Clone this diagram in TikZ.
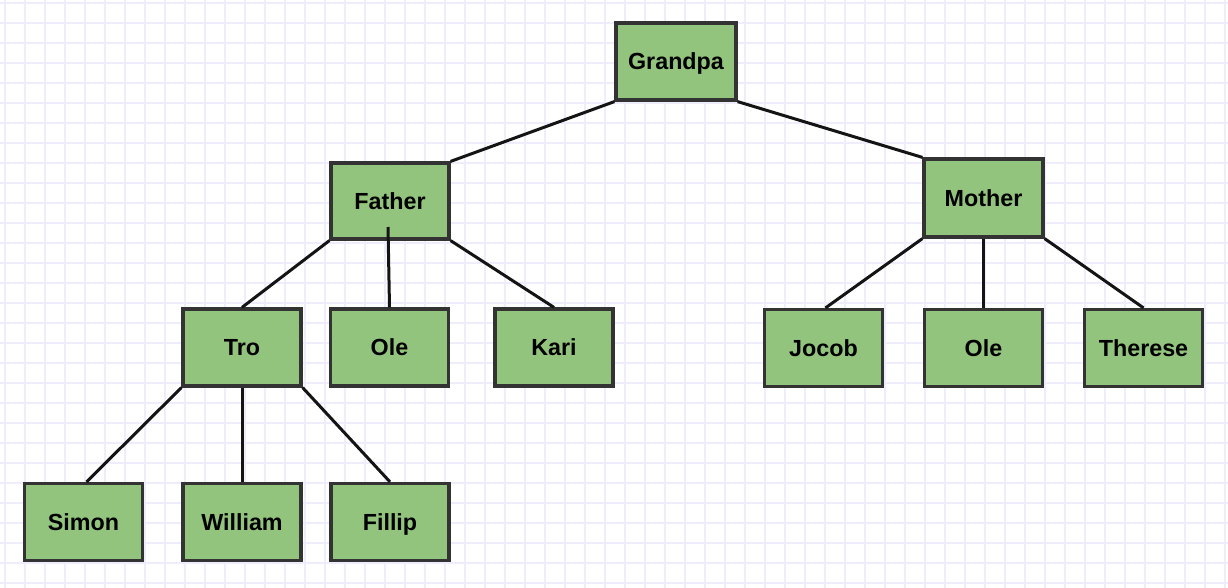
\documentclass[tikz,border=0pt]{standalone}
\usepackage{fontspec}
\setmainfont{Liberation Sans}
\definecolor{boxfill}{HTML}{93C47D}
\definecolor{boxline}{HTML}{333333}
\definecolor{gridc}{HTML}{EFEDFC}
\begin{document}
\begin{tikzpicture}[x=1pt,y=-1pt,
  box/.style={draw=boxline, fill=boxfill, line width=3.2pt, inner sep=0pt,
    minimum width=118pt, minimum height=77pt, text height=16.8pt, text depth=0pt,
    font=\fontsize{23.3}{27}\selectfont\bfseries},
  link/.style={draw=black!92, line width=3pt}]
\fill[white] (0,0) rectangle (1228,588);
\useasboundingbox (0,0) rectangle (1228,588);
\foreach \i in {0,...,61} \draw[gridc, line width=1.2pt] (5+20*\i,0) -- (5+20*\i,588);
\foreach \j in {0,...,29} \draw[gridc, line width=1.2pt] (0,3+20*\j) -- (1228,3+20*\j);

\node[box, minimum width=120pt] (grandpa) at (676,61.5) {Grandpa};
\node[box, minimum height=76pt] (father) at (390,201) {Father};
\node[box, minimum width=119pt, minimum height=78pt] (mother) at (983.5,198) {Mother};
\node[box] (tro) at (242,347.5) {Tro};
\node[box] (ole1) at (389.5,347.5) {Ole};
\node[box] (kari) at (554,347.5) {Kari};
\node[box] (jocob) at (823.5,348) {Jocob};
\node[box] (ole2) at (983.5,348) {Ole};
\node[box] (therese) at (1143.5,348) {Therese};
\node[box] (simon) at (83.5,522) {Simon};
\node[box] (william) at (242,522) {William};
\node[box] (fillip) at (390,522) {Fillip};

\coordinate (fo) at (388,227);

\draw[link] (grandpa.south west) -- (father.north east);
\draw[link] (grandpa.south east) -- (mother.north west);
\draw[link] (father.south west) -- (tro.north);
\draw[link] (fo) -- (ole1.north);
\draw[link] (father.south east) -- (kari.north);
\draw[link] (mother.south west) -- ([xshift=2pt]jocob.north);
\draw[link] (mother.south) -- (ole2.north);
\draw[link] (mother.south east) -- (therese.north);
\draw[link] (tro.south west) -- ([xshift=3pt]simon.north);
\draw[link] (tro.south) -- (william.north);
\draw[link] (tro.south east) -- (fillip.north);
\end{tikzpicture}
\end{document}
